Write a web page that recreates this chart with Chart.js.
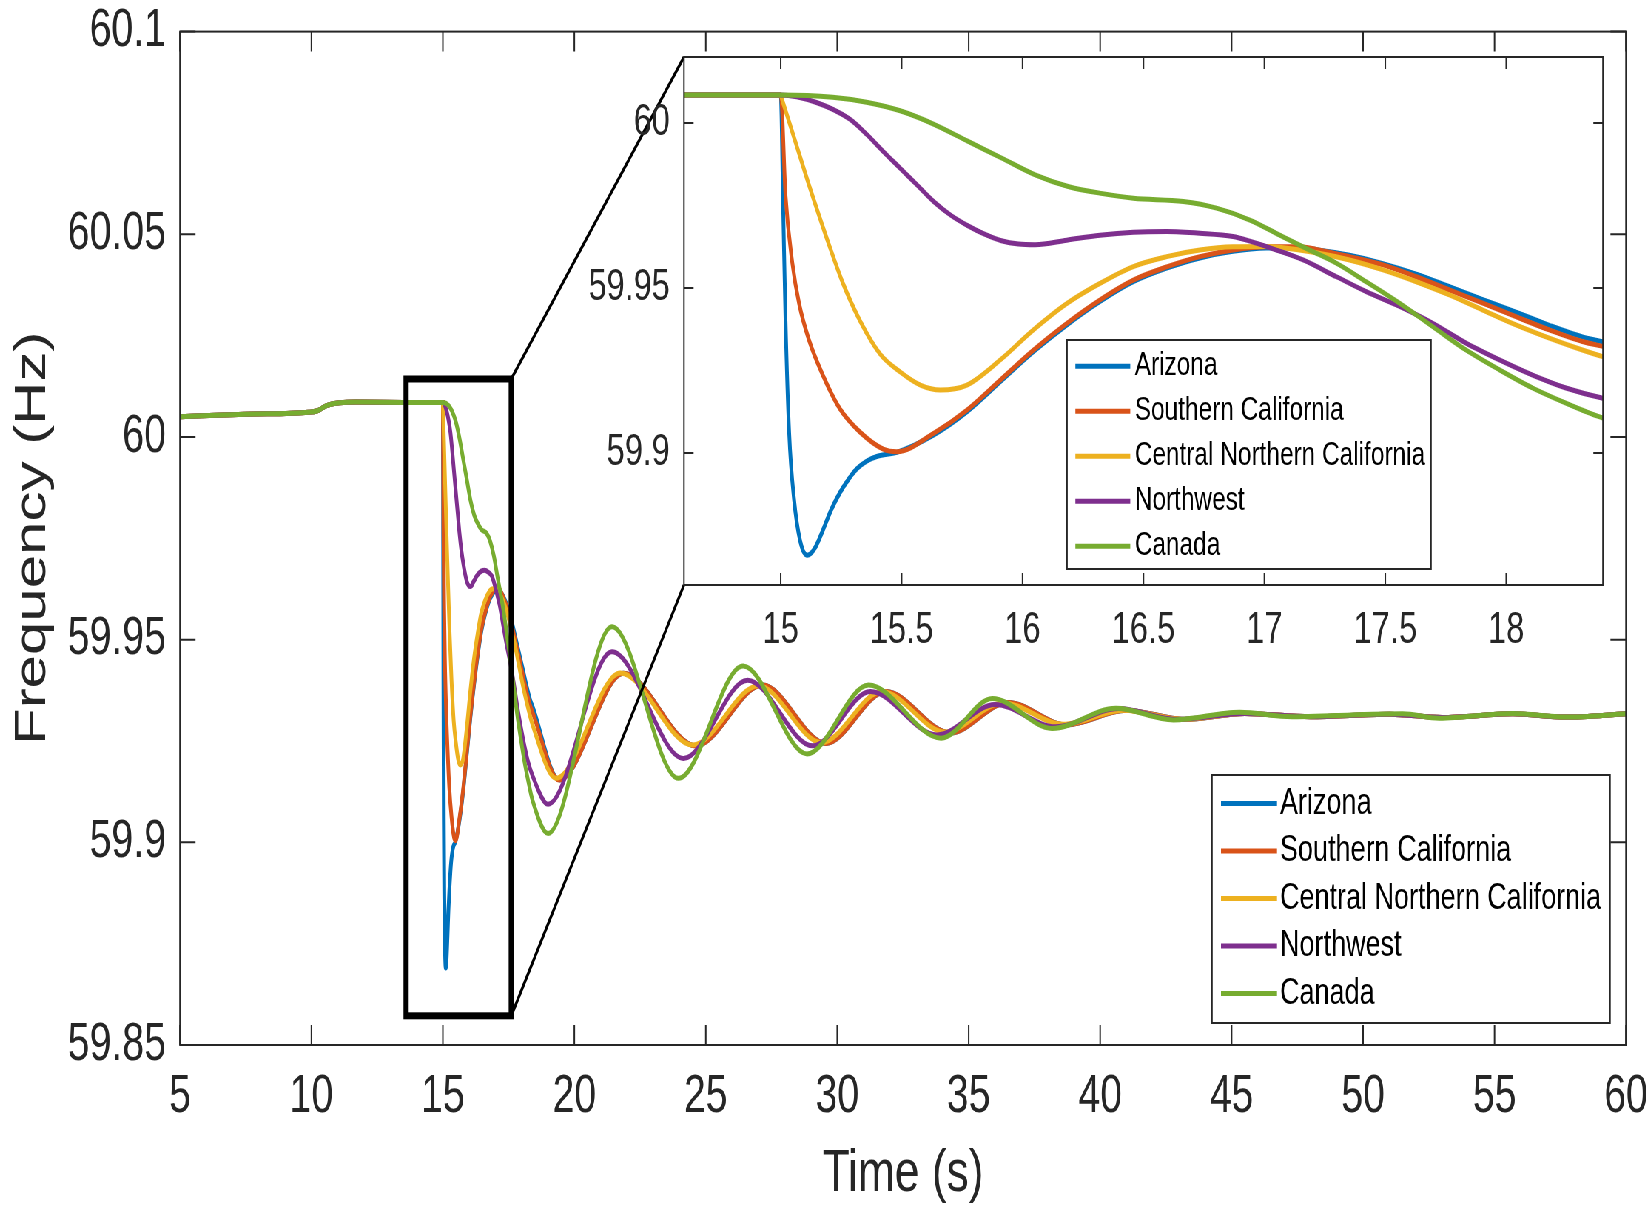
<!DOCTYPE html>
<html>
<head>
<meta charset="utf-8">
<script src="https://cdn.jsdelivr.net/npm/chart.js@4.4.1/dist/chart.umd.min.js"></script>
<style>
  html, body { margin: 0; padding: 0; background: #fff; overflow: hidden; }
  /* the figure is squeezed sideways, so draw wide and compress */
  #wrap { position: relative; width: 2230px; height: 1208px; transform: scaleX(0.74); transform-origin: 0 0; }
  #main { position: absolute; left: 0; top: 0; }
  #inset { position: absolute; left: 740px; top: 0; }
</style>
</head>
<body>
<div id="wrap">
  <canvas id="main" width="2230" height="1208"></canvas>
  <canvas id="inset" width="1490" height="690"></canvas>
</div>
<script>
// ---- data: [time (s), frequency (Hz)] ----
const regionNames = ["Arizona", "Southern California", "Central Northern California", "Northwest", "Canada"];

// before the event all five areas sit on one line
const steadyState = [[5, 60.0050], [7.5, 60.0056], [9.9, 60.0061], [10.2, 60.0064], [10.6, 60.0078], [11.7, 60.0086], [13.5, 60.0085]];

const arizona = [[15.0, 60.0085], [15.01, 59.975], [15.02, 59.940], [15.035, 59.906], [15.055, 59.886], [15.08, 59.8735],
  [15.11, 59.869], [15.14, 59.871], [15.175, 59.8767], [15.21, 59.883], [15.245, 59.888], [15.28, 59.892], [15.315, 59.8952],
  [15.355, 59.8975], [15.40, 59.899], [15.48, 59.9002], [15.633, 59.9055], [15.77, 59.9125], [15.908, 59.9216], [16.045, 59.9307],
  [16.183, 59.9388], [16.32, 59.9459], [16.458, 59.9519], [16.596, 59.956], [16.733, 59.9591], [16.87, 59.9611], [17.008, 59.9621],
  [17.146, 59.9622], [17.215, 59.9616], [17.352, 59.9599], [17.49, 59.9574], [17.628, 59.9542], [17.765, 59.9504], [17.903, 59.9465],
  [18.04, 59.9427], [18.178, 59.9387], [18.315, 59.9352], [18.4, 59.9337], [19.42, 59.9154], [21.87, 59.9417], [24.62, 59.9238],
  [27.16, 59.9388], [29.57, 59.9244], [31.85, 59.9372], [34.3, 59.9270], [36.5, 59.9345], [38.7, 59.9290], [41.0, 59.9326],
  [43.2, 59.9303], [45.5, 59.9318], [48.0, 59.9310], [51.0, 59.9316], [53.0, 59.9308], [55.7, 59.9317], [57.7, 59.9309], [60, 59.9317]];

const southernCal = [[15.0, 60.0085], [15.02, 59.978], [15.048, 59.9576], [15.076, 59.9453], [15.118, 59.934], [15.173, 59.9238],
  [15.243, 59.9136], [15.327, 59.9064], [15.424, 59.9012], [15.48, 59.9004], [15.633, 59.906], [15.77, 59.913], [15.908, 59.9221],
  [16.045, 59.9312], [16.183, 59.9393], [16.32, 59.9464], [16.458, 59.9524], [16.596, 59.9564], [16.733, 59.9595], [16.87, 59.9615],
  [17.008, 59.9625], [17.146, 59.9625], [17.215, 59.9617], [17.352, 59.9595], [17.49, 59.957], [17.628, 59.9534], [17.765, 59.9494],
  [17.903, 59.9454], [18.04, 59.9413], [18.178, 59.9373], [18.315, 59.9338], [18.4, 59.9323], [19.42, 59.9154], [21.87, 59.9417],
  [24.62, 59.9238], [27.16, 59.9388], [29.57, 59.9244], [31.85, 59.9372], [34.3, 59.9270], [36.5, 59.9345], [38.7, 59.9290],
  [41.0, 59.9326], [43.2, 59.9303], [45.5, 59.9318], [48.0, 59.9310], [51.0, 59.9316], [53.0, 59.9308], [55.7, 59.9317],
  [57.7, 59.9309], [60, 59.9317]];

const centralNorthCal = [[15.0, 60.0085], [15.005, 60.0073], [15.06, 59.9945], [15.12, 59.9805], [15.187, 59.9658], [15.257, 59.9515],
  [15.327, 59.9402], [15.411, 59.930], [15.495, 59.9245], [15.58, 59.9205], [15.66, 59.9191], [15.77, 59.9206], [15.908, 59.9282],
  [16.045, 59.9373], [16.183, 59.9453], [16.32, 59.9514], [16.458, 59.9565], [16.596, 59.9595], [16.733, 59.9615], [16.87, 59.9625],
  [17.008, 59.9626], [17.077, 59.9622], [17.215, 59.9607], [17.352, 59.9585], [17.49, 59.9555], [17.628, 59.9519], [17.765, 59.9479],
  [17.903, 59.9433], [18.04, 59.9388], [18.178, 59.9348], [18.315, 59.9312], [18.4, 59.9292], [19.3, 59.9158], [21.75, 59.9418],
  [24.5, 59.9240], [27.0, 59.9386], [29.4, 59.9246], [31.7, 59.9372], [34.1, 59.9272], [36.3, 59.9344], [38.6, 59.9291],
  [40.9, 59.9326], [43.1, 59.9303], [45.5, 59.9318], [48.0, 59.9310], [51.0, 59.9316], [53.0, 59.9308], [55.7, 59.9317],
  [57.7, 59.9309], [60, 59.9317]];

const northwest = [[15.0, 60.0085], [15.145, 60.0063], [15.285, 60.0012], [15.355, 59.9966], [15.424, 59.9914], [15.494, 59.9863],
  [15.564, 59.9812], [15.634, 59.9761], [15.704, 59.972], [15.773, 59.9689], [15.843, 59.9663], [15.913, 59.9643], [15.983, 59.9633],
  [16.052, 59.9631], [16.183, 59.9645], [16.32, 59.966], [16.458, 59.9669], [16.596, 59.9671], [16.733, 59.9666], [16.87, 59.9656],
  [16.94, 59.9642], [17.05, 59.9615], [17.16, 59.9585], [17.298, 59.9534], [17.421, 59.9489], [17.559, 59.9444], [17.696, 59.9393],
  [17.834, 59.9333], [17.972, 59.9282], [18.109, 59.9236], [18.247, 59.9197], [18.4, 59.9166], [19.0, 59.9094], [21.43, 59.947],
  [24.15, 59.9207], [26.59, 59.940], [29.06, 59.9238], [31.26, 59.9372], [33.8, 59.9265], [36.0, 59.934], [38.3, 59.9285],
  [40.7, 59.9330], [42.9, 59.9303], [45.5, 59.9318], [48.0, 59.9310], [51.0, 59.9316], [53.0, 59.9308], [55.7, 59.9317],
  [57.7, 59.9309], [60, 59.9317]];

const canada = [[15.0, 60.0085], [15.215, 60.0078], [15.355, 60.0063], [15.494, 60.0037], [15.634, 59.9996], [15.773, 59.9945],
  [15.913, 59.9894], [16.052, 59.9843], [16.192, 59.9807], [16.331, 59.9786], [16.458, 59.9772], [16.665, 59.9762], [16.802, 59.9742],
  [16.94, 59.9706], [17.077, 59.9655], [17.187, 59.9615], [17.298, 59.9575], [17.421, 59.9519], [17.559, 59.9454], [17.696, 59.9383],
  [17.834, 59.9312], [17.972, 59.9252], [18.109, 59.9197], [18.247, 59.9151], [18.4, 59.9106], [19.0, 59.9022], [21.43, 59.9532],
  [23.96, 59.9158], [26.42, 59.9435], [28.85, 59.9218], [31.19, 59.9388], [33.95, 59.9257], [35.9, 59.9355], [38.17, 59.9281],
  [40.6, 59.9331], [42.79, 59.9302], [45.3, 59.9321], [47.3, 59.9310], [51.5, 59.9317], [52.9, 59.9306], [55.7, 59.9318],
  [57.7, 59.9309], [60, 59.9317]];

const seriesData = [arizona, southernCal, centralNorthCal, northwest, canada];

// tick labels
const mainTimeTicks = [5, 10, 15, 20, 25, 30, 35, 40, 45, 50, 55, 60];
const mainFreqTicks = [59.85, 59.9, 59.95, 60, 60.05, 60.1];
const insetTimeTicks = [15, 15.5, 16, 16.5, 17, 17.5, 18];
const insetFreqTicks = [59.9, 59.95, 60];

// the window that the inset blows up
const zoomWindow = { t0: 13.6, t1: 17.6, f0: 59.8572, f1: 60.0143 };

const lineColors = ["#0072BD", "#D95319", "#EDB120", "#7E2F8E", "#77AC30"];
const axisColor = "#262626";
const INSET_LEFT = 740;

Chart.defaults.font.family = '"Liberation Sans", Arial, Helvetica, sans-serif';
Chart.defaults.color = axisColor;

function makeDatasets() {
  return seriesData.map((s, i) => ({
    label: regionNames[i],
    data: steadyState.concat(s).map(([x, y]) => ({ x, y })),
    borderColor: lineColors[i],
    borderWidth: 5,
    pointRadius: 0,
    cubicInterpolationMode: "monotone",
    order: seriesData.length - i,  // later regions on top, like the original
    clip: 0
  }));
}

function fmt(v) { return String(+Number(v).toFixed(2)); }

// keep the plot box exactly where the layout padding puts it
function fixX(h) { return s => { s.height = h; s.paddingLeft = 0; s.paddingRight = 0; }; }
function fixY(w) { return s => { s.width = w; s.paddingTop = 0; s.paddingBottom = 0; }; }

// box round the axes with inward ticks on every side
const boxTicks = {
  id: "boxTicks",
  afterDraw(chart, args, o) {
    const { ctx, chartArea: a, scales: { x, y } } = chart;
    ctx.save();
    ctx.strokeStyle = axisColor;
    ctx.lineWidth = o.lineWidth;
    ctx.beginPath();
    x.ticks.forEach(t => {
      const px = x.getPixelForValue(t.value);
      ctx.moveTo(px, a.bottom); ctx.lineTo(px, a.bottom - o.xLen);
      ctx.moveTo(px, a.top); ctx.lineTo(px, a.top + o.xLen);
    });
    y.ticks.forEach(t => {
      const py = y.getPixelForValue(t.value);
      ctx.moveTo(a.left, py); ctx.lineTo(a.left + o.yLen, py);
      ctx.moveTo(a.right, py); ctx.lineTo(a.right - o.yLen, py);
    });
    ctx.stroke();
    ctx.strokeRect(a.left, a.top, a.right - a.left, a.bottom - a.top);
    ctx.restore();
  }
};

// MATLAB style legend: opaque box with line swatches
const boxLegend = {
  id: "boxLegend",
  afterDraw(chart, args, o) {
    const ctx = chart.ctx;
    ctx.save();
    ctx.fillStyle = "#fff";
    ctx.fillRect(o.x, o.y, o.w, o.h);
    ctx.strokeStyle = axisColor;
    ctx.lineWidth = 2;
    ctx.strokeRect(o.x, o.y, o.w, o.h);
    ctx.font = o.size + 'px "Liberation Sans", Arial, sans-serif';
    ctx.textBaseline = "middle";
    ctx.textAlign = "left";
    chart.data.datasets.forEach((ds, i) => {
      const ry = o.y + o.first + i * o.gap;
      ctx.strokeStyle = ds.borderColor;
      ctx.lineWidth = 5;
      ctx.beginPath();
      ctx.moveTo(o.x + o.lineStart, ry);
      ctx.lineTo(o.x + o.lineEnd, ry);
      ctx.stroke();
      ctx.fillStyle = "#000";
      ctx.fillText(ds.label, o.x + o.textX, ry);
    });
    ctx.restore();
  }
};

const whiteArea = {
  id: "whiteArea",
  beforeDraw(chart) {
    const { ctx, chartArea: a } = chart;
    ctx.save();
    ctx.fillStyle = "#fff";
    ctx.fillRect(a.left, a.top, a.right - a.left, a.bottom - a.top);
    ctx.restore();
  }
};

// ---- inset ----
const insetChart = new Chart(document.getElementById("inset"), {
  type: "line",
  data: { datasets: makeDatasets() },
  plugins: [whiteArea, boxTicks, boxLegend],
  options: {
    responsive: false,
    animation: false,
    devicePixelRatio: 1,
    layout: { padding: { left: 0, top: 57, right: 63.8, bottom: 0 } },
    plugins: {
      legend: { display: false },
      tooltip: { enabled: false },
      boxTicks: { lineWidth: 2, xLen: 12, yLen: 13 },
      boxLegend: { x: 701.9, y: 340, w: 491.9, h: 229, first: 26.2, gap: 45, lineStart: 11.3, lineEnd: 85.5, textX: 91.5, size: 33 }
    },
    scales: {
      x: {
        type: "linear", min: 14.6, max: 18.4,
        grid: { display: false, drawTicks: false },
        border: { display: false },
        afterBuildTicks: s => { s.ticks = insetTimeTicks.map(v => ({ value: v })); },
        afterFit: fixX(105),
        ticks: { callback: fmt, padding: 19.6, maxRotation: 0, autoSkip: false, font: { size: 44 } }
      },
      y: {
        type: "linear", min: 59.86, max: 60.02,
        grid: { display: false, drawTicks: false },
        border: { display: false },
        afterBuildTicks: s => { s.ticks = insetFreqTicks.map(v => ({ value: v })); },
        afterFit: fixY(184.3),
        ticks: { callback: fmt, padding: 19, font: { size: 44, lineHeight: 1 } }
      }
    }
  }
});

// rectangle on the main axes plus the two lines out to the inset corners
const zoomMarker = {
  id: "zoomMarker",
  afterDraw(chart, args, o) {
    const { ctx, scales: { x, y } } = chart;
    const l = x.getPixelForValue(o.t0), r = x.getPixelForValue(o.t1);
    const t = y.getPixelForValue(o.f1), b = y.getPixelForValue(o.f0);
    const ia = insetChart.chartArea;
    ctx.save();
    ctx.strokeStyle = "#000";
    ctx.lineWidth = 7;
    ctx.strokeRect(l, t, r - l, b - t);
    ctx.lineWidth = 3.5;
    ctx.beginPath();
    ctx.moveTo(r, t); ctx.lineTo(INSET_LEFT + ia.left, ia.top);
    ctx.moveTo(r, b); ctx.lineTo(INSET_LEFT + ia.left, ia.bottom);
    ctx.stroke();
    ctx.restore();
  }
};

// ---- main plot ----
new Chart(document.getElementById("main"), {
  type: "line",
  data: { datasets: makeDatasets() },
  plugins: [boxTicks, zoomMarker, boxLegend],
  options: {
    responsive: false,
    animation: false,
    devicePixelRatio: 1,
    layout: { padding: { left: 0, top: 31.6, right: 32.7, bottom: 0 } },
    plugins: {
      legend: { display: false },
      tooltip: { enabled: false },
      boxTicks: { lineWidth: 2, xLen: 20, yLen: 21 },
      zoomMarker: zoomWindow,
      boxLegend: { x: 1637.8, y: 775, w: 537.9, h: 248, first: 28.5, gap: 47.5, lineStart: 12.2, lineEnd: 87.9, textX: 91.9, size: 36.5 }
    },
    scales: {
      x: {
        type: "linear", min: 5, max: 60,
        grid: { display: false, drawTicks: false },
        border: { display: false },
        afterBuildTicks: s => { s.ticks = mainTimeTicks.map(v => ({ value: v })); },
        afterFit: fixX(163),
        ticks: { callback: fmt, padding: 20.7, maxRotation: 0, autoSkip: false, font: { size: 53 } },
        title: { display: true, text: "Time (s)", font: { size: 60, lineHeight: 1.13 }, padding: { top: 0, bottom: 0 } }
      },
      y: {
        type: "linear", min: 59.85, max: 60.1,
        grid: { display: false, drawTicks: false },
        border: { display: false },
        afterBuildTicks: s => { s.ticks = mainFreqTicks.map(v => ({ value: v })); },
        afterFit: fixY(243.2),
        ticks: { callback: fmt, padding: 19, font: { size: 53, lineHeight: 1 } },
        title: { display: true, text: "Frequency (Hz)", font: { size: 60, lineHeight: 1.13 }, padding: { top: 10.2, bottom: 0 } }
      }
    }
  }
});
</script>
</body>
</html>
